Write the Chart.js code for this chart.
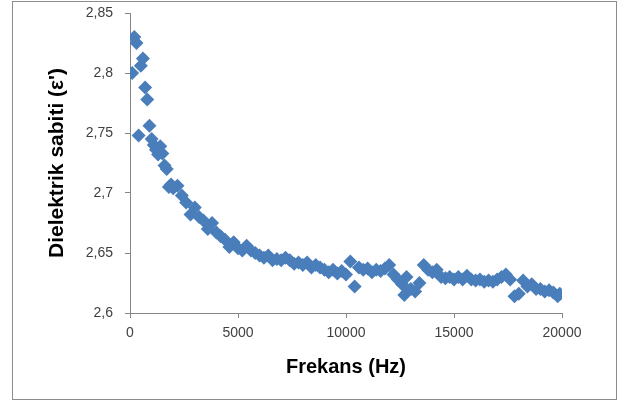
<!DOCTYPE html>
<html>
<head>
<meta charset="utf-8">
<script src="https://cdn.jsdelivr.net/npm/chart.js@4"></script>
<style>
  html, body { margin: 0; padding: 0; background: #fff; }
  #wrap { position: relative; width: 621px; height: 405px; }
  #frame { position: absolute; left: 12px; top: 1px; width: 603px; height: 397px; border: 1px solid #8c8c8c; pointer-events: none; }
  canvas { position: absolute; left: 0; top: 0; }
</style>
</head>
<body>
<div id="wrap">
  <canvas id="c" width="621" height="405"></canvas>
  <div id="frame"></div>
</div>
<script>
const frequencies = [100, 200, 300, 400, 500, 600, 700, 800, 900, 1000,
  1100, 1200, 1300, 1400, 1500, 1600, 1700, 1800, 1900, 2000,
  2200, 2400, 2600, 2800, 3000, 3200, 3400, 3600, 3800, 4000,
  4200, 4400, 4600, 4800, 5000, 5200, 5400, 5600, 5800, 6000,
  6200, 6400, 6600, 6800, 7000, 7200, 7400, 7600, 7800, 8000,
  8200, 8400, 8600, 8800, 9000, 9200, 9400, 9600, 9800, 10000,
  10200, 10400, 10600, 10800, 11000, 11200, 11400, 11600, 11800, 12000,
  12200, 12400, 12600, 12700, 12800, 13000, 13200, 13400, 13600, 13800,
  14000, 14200, 14400, 14600, 14800, 15000, 15200, 15400, 15600, 15800,
  16000, 16200, 16400, 16600, 16800, 17000, 17200, 17400, 17600, 17800,
  18000, 18200, 18400, 18600, 18800, 19000, 19200, 19400, 19600, 19800, 19900];
const permittivity = [2.800, 2.830, 2.825, 2.748, 2.806, 2.812, 2.788, 2.778, 2.756, 2.745,
  2.740, 2.736, 2.732, 2.739, 2.733, 2.723, 2.720, 2.705, 2.707, 2.704,
  2.706, 2.698, 2.692, 2.682, 2.688, 2.680, 2.677, 2.670, 2.675, 2.667,
  2.664, 2.661, 2.655, 2.659, 2.654, 2.652, 2.656, 2.652, 2.650, 2.648,
  2.646, 2.648, 2.644, 2.645, 2.644, 2.646, 2.644, 2.641, 2.642, 2.640,
  2.642, 2.638, 2.640, 2.638, 2.636, 2.634, 2.636, 2.633, 2.635, 2.632,
  2.643, 2.622, 2.638, 2.636, 2.637, 2.634, 2.636, 2.635, 2.637, 2.640,
  2.632, 2.628, 2.624, 2.615, 2.630, 2.620, 2.618, 2.625, 2.640, 2.636,
  2.634, 2.636, 2.630, 2.629, 2.630, 2.628, 2.630, 2.628, 2.631, 2.628,
  2.627, 2.628, 2.626, 2.627, 2.626, 2.628, 2.630, 2.632, 2.628, 2.614,
  2.616, 2.627, 2.622, 2.624, 2.620, 2.620, 2.618, 2.619, 2.617, 2.614, 2.616];
const xTicks = [0, 5000, 10000, 15000, 20000];
const yTicks = [2.6, 2.65, 2.7, 2.75, 2.8, 2.85];
const xTitle = 'Frekans (Hz)';
const yTitle = "Dielektrik sabiti (\u03B5')";

const points = frequencies.map((f, i) => ({ x: f, y: permittivity[i] }));
const axisColor = '#868686';
const tickFont = { family: "'Liberation Sans', Arial, sans-serif", size: 14 };

new Chart(document.getElementById('c'), {
  type: 'scatter',
  data: {
    datasets: [{
      data: points,
      pointStyle: 'rectRot',
      pointRadius: 7,
      pointHoverRadius: 7,
      backgroundColor: '#4a7ebb',
      borderColor: '#4a7ebb',
      borderWidth: 0
    }]
  },
  options: {
    responsive: false,
    animation: false,
    events: [],
    layout: { padding: { top: 13, right: 59, left: 0, bottom: 0 } },
    plugins: { legend: { display: false }, tooltip: { enabled: false } },
    scales: {
      x: {
        type: 'linear',
        min: xTicks[0],
        max: xTicks[xTicks.length - 1],
        afterBuildTicks: s => { s.ticks = xTicks.map(v => ({ value: v })); },
        afterFit: s => { s.height = 92; s.paddingLeft = 0; s.paddingRight = 0; },
        border: { display: true, color: axisColor, width: 1 },
        grid: { display: true, drawOnChartArea: false, drawTicks: true, tickLength: 5, color: axisColor },
        ticks: { color: '#404040', font: tickFont, padding: 7, maxRotation: 0, callback: v => String(v) },
        title: { display: true, text: xTitle, color: '#000',
          font: { family: "'Liberation Sans', Arial, sans-serif", size: 20, weight: 'bold' },
          padding: { top: 0, bottom: 26 } }
      },
      y: {
        type: 'linear',
        min: yTicks[0],
        max: yTicks[yTicks.length - 1],
        afterBuildTicks: s => { s.ticks = yTicks.map(v => ({ value: v })); },
        afterFit: s => { s.width = 130; s.paddingTop = 0; s.paddingBottom = 0; },
        border: { display: true, color: axisColor, width: 1 },
        grid: { display: true, drawOnChartArea: false, drawTicks: true, tickLength: 5, color: axisColor },
        ticks: { color: '#404040', font: tickFont, padding: 12,
          callback: v => String(Number(v.toFixed(2))).replace('.', ',') },
        title: { display: true, text: yTitle, color: '#000',
          font: { family: "'Liberation Sans', Arial, sans-serif", size: 21, weight: 'bold' },
          padding: { top: 45, bottom: 0 } }
      }
    }
  }
});
</script>
</body>
</html>
